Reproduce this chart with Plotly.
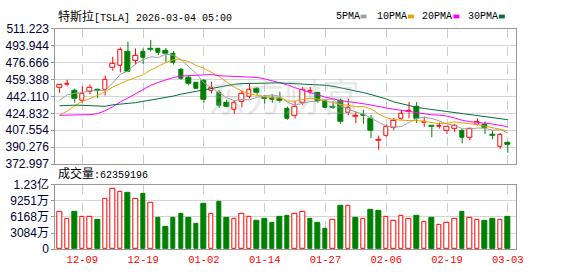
import plotly.graph_objects as go

# ---------------- data ----------------
dates = ["2025-12-04","2025-12-05","2025-12-08","2025-12-09","2025-12-10","2025-12-11","2025-12-12",
         "2025-12-15","2025-12-16","2025-12-17","2025-12-18","2025-12-19","2025-12-22","2025-12-23",
         "2025-12-24","2025-12-26","2025-12-29","2025-12-30","2025-12-31",
         "2026-01-02","2026-01-05","2026-01-06","2026-01-07","2026-01-08","2026-01-09","2026-01-12",
         "2026-01-13","2026-01-14","2026-01-15","2026-01-16","2026-01-20","2026-01-21","2026-01-22",
         "2026-01-23","2026-01-26","2026-01-27","2026-01-28","2026-01-29","2026-01-30",
         "2026-02-02","2026-02-03","2026-02-04","2026-02-05","2026-02-06","2026-02-09","2026-02-10",
         "2026-02-11","2026-02-12","2026-02-13","2026-02-17","2026-02-18","2026-02-19","2026-02-20",
         "2026-02-23","2026-02-24","2026-02-25","2026-02-26","2026-02-27","2026-03-02","2026-03-03"]

opens = [450.5,453.6,447.6,438.0,446.9,449.1,448.5,470.9,473.1,487.9,478.9,488.2,490.4,490.4,489.1,
         485.3,469.3,461.3,456.5,458.1,447.9,445.3,435.7,428.4,437.0,442.1,450.1,441.1,440.5,439.5,
         429.9,422.2,435.7,446.9,445.3,437.3,431.6,437.3,425.1,421.3,422.9,419.7,396.3,401.5,410.1,
         418.8,426.0,431.6,414.9,412.4,410.7,406.9,409.2,406.9,399.6,413.3,413.3,402.8,391.0,395.1]
highs = [455.0,459.1,450.1,452.4,454.3,450.1,463.5,482.7,492.3,498.1,491.1,491.1,499.7,491.7,491.7,
         488.5,471.2,462.9,456.8,459.7,457.2,448.5,438.9,438.0,448.5,454.9,451.7,443.7,444.3,446.9,
         431.6,437.5,451.7,451.7,446.2,438.6,437.3,439.9,439.9,427.0,428.4,422.9,402.1,413.3,420.3,
         427.7,436.3,436.3,421.3,412.4,415.5,411.4,414.2,408.5,410.1,419.7,416.5,406.9,404.7,396.3]
lows = [445.7,452.4,435.7,435.7,444.3,440.5,443.1,468.3,466.8,466.8,474.7,475.0,487.9,484.3,477.3,
        474.7,459.1,453.4,449.8,435.7,445.3,430.3,430.9,424.2,430.9,439.9,443.7,434.7,435.7,435.7,
        418.1,419.5,433.5,444.3,435.7,430.3,429.3,414.2,422.9,414.9,414.2,399.6,387.6,400.5,407.5,
        418.1,419.7,414.9,411.1,400.5,409.2,403.7,405.9,394.1,397.3,412.4,403.7,398.3,388.6,384.5]
closes = [454.3,455.5,439.5,445.0,451.4,447.6,459.1,475.7,490.1,467.7,483.4,481.8,489.4,486.6,485.3,
          476.4,460.4,454.9,450.1,438.3,451.1,432.5,431.9,435.1,444.7,448.5,446.2,439.5,438.9,437.3,
          418.8,431.6,449.1,447.9,437.3,430.9,430.3,416.5,430.3,422.2,421.9,406.9,397.3,410.7,417.1,
          424.5,427.0,418.8,416.5,411.1,411.7,411.4,411.7,400.2,409.2,416.5,410.1,402.1,402.8,392.5]

ma5 = [438.0,443.7,445.3,446.0,448.0,447.8,448.5,455.8,464.8,468.0,475.2,479.7,482.6,481.9,485.4,
       484.0,479.7,472.7,465.4,456.0,451.0,445.4,440.8,437.8,439.1,438.5,441.3,442.8,443.6,442.1,
       436.1,433.2,435.1,436.9,436.9,439.4,439.1,432.6,429.1,426.0,424.2,419.6,415.7,411.8,410.8,
       411.3,415.3,419.6,420.8,419.6,417.0,413.9,412.5,409.2,408.8,409.8,409.5,407.6,408.1,404.8]
ma10 = [423.0,427.0,432.5,437.3,439.9,443.1,446.9,451.7,455.5,458.6,461.5,464.1,469.2,473.3,476.7,
        479.6,479.7,477.7,473.7,470.7,467.0,462.6,456.8,451.6,447.5,444.8,443.3,441.8,440.7,440.6,
        437.3,437.3,439.0,440.3,439.5,437.8,436.2,433.9,433.0,431.5,431.8,429.3,424.2,420.4,418.4,
        417.8,417.4,417.7,416.3,415.2,414.2,414.6,416.1,415.0,414.2,413.4,411.7,410.1,408.7,406.8]
ma20 = [422.8,422.9,423.0,423.2,423.5,424.5,427.5,431.5,436.5,440.5,445.0,449.5,453.5,456.5,459.0,
        461.5,463.0,463.5,464.0,464.6,464.5,463.3,463.0,462.5,462.1,462.2,461.5,460.0,458.0,456.5,
        454.0,451.0,448.5,446.0,443.5,441.3,439.7,437.8,436.8,436.0,434.6,433.3,431.6,430.3,429.0,
        427.8,426.8,425.8,424.6,423.3,423.0,422.0,420.1,417.7,416.3,415.6,414.6,413.9,412.5,411.0]
ma30 = [432.5,433.0,433.2,433.0,432.5,431.8,432.0,433.5,434.5,435.0,435.7,437.0,438.5,439.7,441.0,
        442.5,444.5,446.0,447.5,448.5,450.0,451.5,453.0,454.5,455.2,455.5,455.7,455.8,456.0,456.0,
        455.5,455.2,455.0,454.8,454.5,453.5,452.5,451.0,449.5,447.8,446.0,444.0,442.0,439.5,436.5,
        434.5,433.0,431.0,429.8,428.8,427.8,426.8,425.8,424.8,423.8,422.5,421.3,420.3,419.3,418.3]

volumes = [72.0e6,57.5e6,70.7e6,62.9e6,62.9e6,56.2e6,97.4e6,115.6e6,110.7e6,108.8e6,97.4e6,105.2e6,
           88.3e6,60.4e6,42.3e6,60.4e6,67.1e6,60.4e6,49.5e6,87.1e6,68.4e6,90.7e6,59.9e6,57.5e6,
           68.4e6,61.1e6,54.4e6,58.1e6,50.8e6,61.7e6,63.5e6,68.4e6,72.0e6,58.1e6,50.8e6,38.1e6,
           56.2e6,83.4e6,83.4e6,59.9e6,57.5e6,76.2e6,74.4e6,62.9e6,53.8e6,64.7e6,57.5e6,63.5e6,
           52.0e6,59.9e6,46.6e6,50.2e6,57.5e6,70.7e6,59.9e6,56.2e6,54.4e6,58.1e6,56.2e6,62359196]
vol_up = [1,1,0,1,1,0,1,1,1,0,1,0,1,0,0,0,0,0,0,0,1,0,0,1,1,1,0,0,0,0,
          0,1,1,0,0,0,1,0,1,0,1,0,0,1,1,1,1,0,1,0,1,1,1,0,1,1,0,0,1,0]

tick_dates = ["2025-12-09", "2025-12-19", "2026-01-02", "2026-01-14",
              "2026-01-27", "2026-02-06", "2026-02-19", "2026-03-03"]
tick_text = ["12-09", "12-19", "01-02", "01-14", "01-27", "02-06", "02-19", "03-03"]
price_ticks = [372.997, 390.276, 407.554, 424.832, 442.110, 459.388, 476.666, 493.944, 511.223]
price_tick_text = ["372.997", "390.276", "407.554", "424.832", "442.110", "459.388", "476.666", "493.944", "511.223"]
vol_ticks = [0, 30840000, 61680000, 92510000, 123360000]
vol_tick_text = ["0", "3084万", "6168万", "9251万", "1.23亿"]
title_name = "特斯拉"
title_rest = "[TSLA] 2026-03-04 05:00"
vol_name = "成交量"
vol_value = "62359196"
ma_names = ["5PMA", "10PMA", "20PMA", "30PMA"]
watermark = "东方财富"

# ---------------- styling ----------------
RED = "#ff0000"
GREEN = "#008000"
MA_COLORS = ["#a0a0a0", "#f0a000", "#ff00ff", "#006f3a"]
W, H = 578, 276
X0, X1 = 56, 522.7
P_TOP, P_BOT = 22, 165
V_TOP, V_BOT = 187, 255
MONO = "Liberation Mono, Noto Sans CJK SC, monospace"
SANS = "Liberation Sans, Noto Sans CJK SC, sans-serif"

# trading-day positions on the axis (one slot per session)
pos = list(range(len(dates)))
tick_pos = [dates.index(d) for d in tick_dates]

fig = go.Figure()
up = [c >= o for o, c in zip(opens, closes)]

# wicks (split so hollow bodies stay hollow)
for is_up, col in [(True, RED), (False, GREEN)]:
    xs, ys = [], []
    for i in pos:
        if up[i] != is_up:
            continue
        top = max(opens[i], closes[i])
        bot = min(opens[i], closes[i])
        xs += [i, i, None, i, i, None]
        ys += [highs[i], top, None, bot, lows[i], None]
    fig.add_trace(go.Scatter(x=xs, y=ys, mode="lines", line=dict(color=col, width=1),
                             hoverinfo="skip", showlegend=False, xaxis="x", yaxis="y"))

# bodies
for is_up, fill, col in [(True, "white", RED), (False, GREEN, GREEN)]:
    idx = [i for i in pos if up[i] == is_up]
    fig.add_trace(go.Bar(x=idx, y=[abs(closes[i] - opens[i]) for i in idx],
                         base=[min(opens[i], closes[i]) for i in idx], width=0.6,
                         marker=dict(color=fill, line=dict(color=col, width=1)),
                         showlegend=False, xaxis="x", yaxis="y"))

# moving averages
for name, vals, col in zip(ma_names, [ma5, ma10, ma20, ma30], MA_COLORS):
    fig.add_trace(go.Scatter(x=pos, y=vals, mode="lines", line=dict(color=col, width=1),
                             name=name, showlegend=False, xaxis="x", yaxis="y"))

# volume
for flag, fill, col in [(1, "white", RED), (0, GREEN, GREEN)]:
    idx = [i for i in pos if vol_up[i] == flag]
    fig.add_trace(go.Bar(x=idx, y=[volumes[i] for i in idx], width=0.6,
                         marker=dict(color=fill, line=dict(color=col, width=1)),
                         showlegend=False, xaxis="x2", yaxis="y2"))

xr = [-0.56, 60.13]
common_x = dict(type="linear", range=xr, tickmode="array",
                tickvals=tick_pos, ticktext=tick_text, tickangle=0,
                showgrid=True, gridcolor="#cccccc", griddash="dash", gridwidth=1,
                showline=True, mirror=True, linecolor="#999999", linewidth=1,
                zeroline=False, ticks="", fixedrange=True)

common_y = dict(showgrid=True, gridcolor="#d4d4d4", gridwidth=1, zeroline=False,
                showline=True, mirror=True, linecolor="#999999", linewidth=1,
                ticks="outside", ticklen=3, tickcolor="#999999", tickmode="array",
                tickfont=dict(family=SANS, size=12, color="#000033"), fixedrange=True)

fig.update_layout(
    width=W, height=H, margin=dict(l=0, r=0, t=0, b=0),
    paper_bgcolor="white", plot_bgcolor="white",
    barmode="overlay", bargap=0, showlegend=False,
    xaxis=dict(domain=[X0 / W, X1 / W], anchor="y", showticklabels=False, **common_x),
    xaxis2=dict(domain=[X0 / W, X1 / W], anchor="y2", showticklabels=True,
                tickfont=dict(family=MONO, size=10.5, color=RED), **common_x),
    yaxis=dict(domain=[1 - P_BOT / H, 1 - P_TOP / H], range=[372.997, 511.223],
               tickvals=price_ticks, ticktext=price_tick_text, **common_y),
    yaxis2=dict(domain=[1 - V_BOT / H, 1 - V_TOP / H], range=[0, 123360000],
                tickvals=vol_ticks, ticktext=vol_tick_text, **common_y),
)

ann = []
# watermark
ann.append(dict(x=287 / W, y=1 - 92 / H, xref="paper", yref="paper", text=watermark,
                showarrow=False, font=dict(family="Noto Sans CJK SC", size=38, color="rgba(175,175,175,0.3)"),
                xanchor="center", yanchor="middle"))
# title
ann.append(dict(x=57 / W, y=1 - 9 / H, xref="paper", yref="paper",
                text='<span style="font-size:12px">' + title_name + '</span>' + title_rest,
                showarrow=False, font=dict(family=MONO, size=10, color="#000000"),
                xanchor="left", yanchor="middle"))
# volume label
ann.append(dict(x=57 / W, y=1 - 176 / H, xref="paper", yref="paper",
                text='<span style="font-size:12px">' + vol_name + '</span>:' + vol_value,
                showarrow=False, font=dict(family=MONO, size=10, color="#000000"),
                xanchor="left", yanchor="middle"))
# legend
leg_text_x = [338, 380, 425, 472]
leg_box_x = [365, 413, 459, 505]
shapes = []
for name, tx, bx, col in zip(ma_names, leg_text_x, leg_box_x, MA_COLORS):
    ann.append(dict(x=tx / W, y=1 - 9 / H, xref="paper", yref="paper", text=name,
                    showarrow=False, font=dict(family=MONO, size=10, color="#000000"),
                    xanchor="left", yanchor="middle"))
    shapes.append(dict(type="rect", xref="paper", yref="paper",
                       x0=bx / W, x1=(bx + 6) / W, y0=1 - 11 / H, y1=1 - 7 / H,
                       fillcolor=col, line=dict(width=0)))

fig.update_layout(annotations=ann, shapes=shapes)
fig.write_html("out.html")
